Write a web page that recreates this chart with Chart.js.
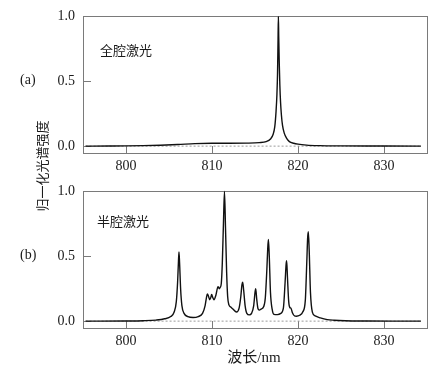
<!DOCTYPE html>
<html><head><meta charset="utf-8">
<script src="https://cdn.jsdelivr.net/npm/chart.js@4.4.1/dist/chart.umd.min.js"></script>
<style>
html,body{margin:0;padding:0;background:#fff;width:446px;height:377px;overflow:hidden;position:relative}
canvas{position:absolute;left:0}
.t{position:absolute;white-space:nowrap;color:#1a1a1a}
.serif{font-family:"Liberation Serif","Times New Roman",serif}
.cjk{font-family:"Liberation Serif","Noto Sans CJK SC",sans-serif}
</style></head><body>
<canvas id="ca" width="446" height="175" style="top:0"></canvas>
<canvas id="cb" width="446" height="202" style="top:175px"></canvas>
<div class="t serif" style="left:20px;top:73px;font-size:14px;line-height:14px">(a)</div>
<div class="t serif" style="left:20px;top:248px;font-size:14px;line-height:14px">(b)</div>
<div class="t cjk" style="left:100px;top:44px;font-size:13px;line-height:13px">全腔激光</div>
<div class="t cjk" style="left:97px;top:215px;font-size:13px;line-height:13px">半腔激光</div>
<div class="t cjk" style="left:204px;top:350px;width:100px;text-align:center;font-size:15px;line-height:15px">波长/nm</div>
<div class="t cjk" style="left:-17px;top:159px;width:120px;height:14px;text-align:center;font-size:13px;line-height:14px;transform:rotate(-90deg);transform-origin:50% 50%">归一化光谱强度</div>
<script>
// ---- data ----
const xTickValues = [800, 810, 820, 830];
const yTickValues = [0, 0.5, 1.0];

// (a) full-cavity laser
const wavelengthA = [795.3, 798, 800, 802, 804, 806, 808, 810, 812, 814, 815.5, 816.3, 816.8, 817.1, 817.3, 817.45, 817.55, 817.62, 817.68, 817.72, 817.76, 817.82, 817.89, 817.97, 818.07, 818.2, 818.4, 818.7, 819.0, 819.5, 820, 821, 822.5, 825, 830, 834.3];
const intensityA  = [0.000, 0.001, 0.002, 0.004, 0.007, 0.012, 0.019, 0.022, 0.022, 0.023, 0.027, 0.035, 0.055, 0.09, 0.15, 0.27, 0.40, 0.56, 0.82, 1.0, 0.84, 0.64, 0.47, 0.34, 0.24, 0.16, 0.10, 0.058, 0.035, 0.022, 0.015, 0.008, 0.004, 0.002, 0.001, 0.000];

// (b) half-cavity laser
const wavelengthB = [795.3, 800, 802, 803.5, 804.5, 805.2, 805.6, 805.85, 806.0, 806.1, 806.16, 806.23, 806.35, 806.5, 806.75, 807.2, 807.8, 808.4, 808.9, 809.2, 809.35, 809.46, 809.6, 809.73, 809.85, 809.96, 810.1, 810.23, 810.45, 810.7, 810.85, 810.95, 811.08, 811.2, 811.33, 811.45, 811.57, 811.7, 811.82, 811.97, 812.15, 812.4, 812.85, 813.15, 813.35, 813.48, 813.57, 813.68, 813.85, 814.05, 814.34, 814.6, 814.85, 815.0, 815.08, 815.2, 815.35, 815.5, 815.75, 816.0, 816.2, 816.38, 816.48, 816.56, 816.66, 816.8, 817.0, 817.2, 817.6, 818.0, 818.3, 818.5, 818.62, 818.68, 818.78, 818.92, 819.05, 819.18, 819.35, 819.6, 819.8, 820.2, 820.55, 820.85, 821.02, 821.12, 821.2, 821.3, 821.45, 821.67, 822.0, 822.6, 823.4, 824.2, 825.5, 828, 831, 834.3];
const intensityB  = [0.000, 0.001, 0.003, 0.008, 0.018, 0.035, 0.07, 0.15, 0.30, 0.46, 0.534, 0.45, 0.25, 0.12, 0.06, 0.035, 0.028, 0.035, 0.06, 0.12, 0.18, 0.21, 0.19, 0.165, 0.18, 0.205, 0.18, 0.165, 0.20, 0.265, 0.25, 0.26, 0.29, 0.45, 0.75, 1.0, 0.72, 0.38, 0.19, 0.125, 0.11, 0.095, 0.07, 0.10, 0.19, 0.28, 0.30, 0.24, 0.12, 0.06, 0.048, 0.06, 0.12, 0.22, 0.25, 0.17, 0.095, 0.085, 0.095, 0.11, 0.18, 0.40, 0.56, 0.63, 0.50, 0.22, 0.09, 0.052, 0.05, 0.06, 0.10, 0.30, 0.44, 0.465, 0.33, 0.15, 0.105, 0.10, 0.065, 0.04, 0.038, 0.045, 0.07, 0.16, 0.45, 0.64, 0.69, 0.55, 0.22, 0.07, 0.04, 0.025, 0.012, 0.007, 0.003, 0.001, 0.000, 0.000];

const baselineX = [795.3, 834.3];
const baselineY = [0, 0];

// ---- chart helpers ----
const toPts = (xs, ys) => xs.map((x, i) => ({ x: x, y: ys[i] }));

const framePlugin = {
  id: 'frameTicks',
  beforeDatasetsDraw(chart) {
    const ctx = chart.ctx, a = chart.chartArea;
    const xs = chart.scales.x, ys = chart.scales.y;
    ctx.save();
    ctx.strokeStyle = '#7a7a7a';
    ctx.lineWidth = 1;
    ctx.strokeRect(Math.round(a.left) + 0.5, Math.round(a.top) + 0.5, Math.round(a.right - a.left), Math.round(a.bottom - a.top));
    ctx.beginPath();
    xTickValues.forEach(v => {
      const px = Math.round(xs.getPixelForValue(v)) + 0.5;
      ctx.moveTo(px, a.bottom); ctx.lineTo(px, a.bottom - 7);
    });
    yTickValues.forEach(v => {
      const py = Math.round(ys.getPixelForValue(v)) + 0.5;
      ctx.moveTo(a.left, py); ctx.lineTo(a.left + 8, py);
    });
    ctx.stroke();
    ctx.restore();
  }
};

function makeChart(id, xs, ys, xAxisHeight) {
  return new Chart(document.getElementById(id), {
    type: 'line',
    data: {
      datasets: [
        { data: toPts(xs, ys), borderColor: '#111', borderWidth: 1.4, pointRadius: 0,
          cubicInterpolationMode: 'monotone', order: 0, clip: 4 },
        { data: toPts(baselineX, baselineY), borderColor: '#9a9a9a', borderWidth: 1,
          borderDash: [2, 2], pointRadius: 0, order: 1 }
      ]
    },
    options: {
      responsive: false, animation: false, devicePixelRatio: 1,
      layout: { padding: { left: 0, top: 13, right: 19, bottom: 0 } },
      plugins: { legend: { display: false }, tooltip: { enabled: false } },
      scales: {
        x: {
          type: 'linear', min: 795, max: 835,
          grid: { display: false, drawTicks: false }, border: { display: false },
          afterBuildTicks: s => { s.ticks = xTickValues.map(v => ({ value: v })); },
          afterFit: s => { s.height = xAxisHeight; },
          ticks: { font: { family: 'Liberation Serif', size: 14 }, color: '#1a1a1a', padding: 5, maxRotation: 0 }
        },
        y: {
          min: -0.053, max: 1.0,
          grid: { display: false, drawTicks: false }, border: { display: false },
          afterBuildTicks: s => { s.ticks = yTickValues.map(v => ({ value: v })); },
          afterFit: s => { s.width = 83; },
          ticks: { font: { family: 'Liberation Serif', size: 14 }, color: '#1a1a1a', padding: 8,
                   callback: v => Number(v).toFixed(1) }
        }
      }
    },
    plugins: [framePlugin]
  });
}

makeChart('ca', wavelengthA, intensityA, 22);
makeChart('cb', wavelengthB, intensityB, 49);
</script>
</body></html>
